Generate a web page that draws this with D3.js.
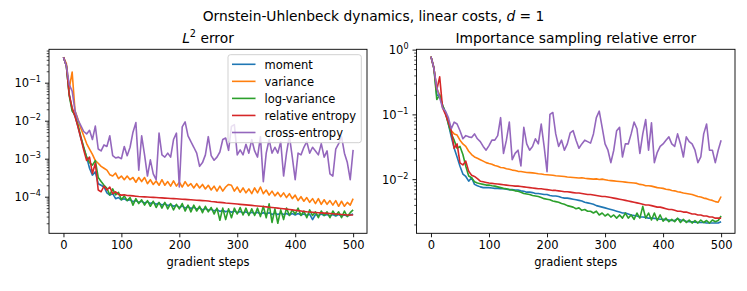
<!DOCTYPE html>
<html>
<head>
<meta charset="utf-8">
<script src="https://cdn.jsdelivr.net/npm/d3@7"></script>
<style>
  body { margin: 0; background: #fff; }
  text { font-family: "DejaVu Sans", sans-serif; }
</style>
</head>
<body>
<div id="wrapper"></div>
<script>
// steps 0..500, every 5 gradient steps
const steps = d3.range(0, 501, 5)
const seriesNames = ['moment', 'variance', 'log-variance', 'relative entropy', 'cross-entropy']
const seriesColors = ['#1f77b4', '#ff7f0e', '#2ca02c', '#d62728', '#9467bd']
const xTicks = [0, 100, 200, 300, 400, 500]
const leftYTickExp = [-4, -3, -2, -1]
const rightYTickExp = [-2, -1, 0]

// L2 error
const l2Moment = [0.47, 0.28, 0.050, 0.020, 0.013, 0.0071, 0.0035, 0.0019, 0.0011, 5.6e-4,
  3.7e-4, 4.5e-4, 2.2e-4, 2.0e-4, 1.8e-4, 1.26e-4, 1.1e-4, 1.2e-4, 8.9e-5, 9.5e-5,
  8.3e-5, 8.8e-5, 7.9e-5, 8.3e-5, 7.4e-5, 7.9e-5, 7.1e-5, 7.6e-5, 6.8e-5, 7.4e-5,
  6.6e-5, 7.1e-5, 6.3e-5, 6.8e-5, 6.0e-5, 6.6e-5, 5.8e-5, 6.3e-5, 5.6e-5, 6.0e-5,
  5.2e-5, 5.7e-5, 5.0e-5, 5.5e-5, 4.9e-5, 5.3e-5, 4.7e-5, 5.1e-5, 4.5e-5, 4.9e-5,
  4.4e-5, 4.7e-5, 4.2e-5, 4.6e-5, 4.1e-5, 4.4e-5, 4.0e-5, 4.3e-5, 3.9e-5, 4.2e-5,
  3.8e-5, 4.1e-5, 3.7e-5, 4.0e-5, 3.6e-5, 3.9e-5, 3.6e-5, 3.9e-5, 3.5e-5, 3.8e-5,
  3.5e-5, 3.8e-5, 3.4e-5, 3.7e-5, 3.4e-5, 3.7e-5, 3.4e-5, 3.6e-5, 3.3e-5, 3.6e-5,
  3.3e-5, 3.6e-5, 3.3e-5, 3.5e-5, 3.2e-5, 3.5e-5, 2.5e-5, 3.4e-5, 3.2e-5, 3.5e-5,
  3.2e-5, 3.4e-5, 3.1e-5, 3.4e-5, 3.1e-5, 3.4e-5, 3.1e-5, 3.3e-5, 3.1e-5, 3.3e-5,
  3.5e-5]
const l2Variance = [0.47, 0.32, 0.071, 0.19, 0.018, 0.011, 0.0063, 0.0040, 0.0025, 0.0018,
  1.3e-3, 8.9e-4, 7.6e-4, 6.3e-4, 5.6e-4, 5.0e-4, 3.8e-4, 3.5e-4, 4.2e-4, 3.0e-4,
  3.5e-4, 2.8e-4, 3.5e-4, 2.8e-4, 3.2e-4, 2.4e-4, 3.2e-4, 2.5e-4, 3.2e-4, 2.2e-4,
  2.8e-4, 2.1e-4, 2.6e-4, 2.0e-4, 2.8e-4, 2.0e-4, 2.5e-4, 1.9e-4, 2.6e-4, 1.9e-4,
  2.4e-4, 1.8e-4, 2.5e-4, 1.9e-4, 2.2e-4, 1.7e-4, 2.2e-4, 1.7e-4, 2.1e-4, 1.6e-4,
  2.0e-4, 1.5e-4, 1.9e-4, 1.4e-4, 1.9e-4, 1.4e-4, 1.8e-4, 2.1e-4, 2.0e-4, 1.4e-4,
  1.8e-4, 1.3e-4, 1.7e-4, 1.26e-4, 1.6e-4, 1.2e-4, 1.7e-4, 1.26e-4, 1.8e-4, 1.2e-4,
  1.5e-4, 1.1e-4, 1.4e-4, 1.05e-4, 1.3e-4, 1.0e-4, 1.26e-4, 9.5e-5, 1.2e-4, 8.9e-5,
  1.1e-4, 7.9e-5, 1.0e-4, 7.6e-5, 9.5e-5, 7.1e-5, 8.9e-5, 6.6e-5, 8.9e-5, 6.3e-5,
  8.3e-5, 6.3e-5, 7.9e-5, 6.0e-5, 7.9e-5, 5.6e-5, 7.6e-5, 5.6e-5, 7.1e-5, 6.0e-5,
  8.9e-5]
const l2LogVariance = [0.47, 0.28, 0.045, 0.018, 0.014, 0.0079, 0.0038, 0.0020, 0.0011, 7.9e-4,
  6.8e-4, 8.9e-4, 3.2e-4, 2.5e-4, 2.0e-4, 1.66e-4, 1.12e-4, 1.6e-4, 1.12e-4, 1.3e-4,
  8.3e-5, 1.05e-4, 7.9e-5, 9.5e-5, 6.0e-5, 8.9e-5, 6.6e-5, 8.3e-5, 6.0e-5, 7.9e-5,
  5.6e-5, 7.6e-5, 5.2e-5, 7.1e-5, 5.0e-5, 7.1e-5, 4.8e-5, 6.6e-5, 4.5e-5, 6.3e-5,
  4.8e-5, 6.6e-5, 4.2e-5, 6.0e-5, 4.0e-5, 6.0e-5, 4.2e-5, 5.6e-5, 3.8e-5, 5.6e-5,
  4.0e-5, 5.2e-5, 3.5e-5, 5.0e-5, 2.4e-5, 5.0e-5, 2.5e-5, 4.8e-5, 2.8e-5, 5.0e-5,
  3.5e-5, 5.2e-5, 3.3e-5, 5.0e-5, 3.2e-5, 4.8e-5, 3.2e-5, 5.0e-5, 3.0e-5, 5.6e-5,
  2.8e-5, 6.5e-5, 2.1e-5, 4.8e-5, 2.0e-5, 4.5e-5, 2.5e-5, 5.0e-5, 3.2e-5, 4.5e-5,
  3.5e-5, 5.0e-5, 3.2e-5, 4.2e-5, 2.8e-5, 4.5e-5, 3.2e-5, 4.0e-5, 2.8e-5, 4.2e-5,
  3.2e-5, 4.0e-5, 2.8e-5, 4.2e-5, 3.2e-5, 4.0e-5, 2.8e-5, 4.2e-5, 3.0e-5, 3.8e-5,
  4.5e-5]
const l2RelEntropy = [0.47, 0.28, 0.048, 0.022, 0.013, 0.0069, 0.0035, 0.0017, 9.0e-4, 1.1e-3,
  4.1e-4, 7.6e-4, 1.5e-4, 1.35e-4, 1.9e-4, 1.5e-4, 1.8e-4, 1.2e-4, 1.35e-4, 1.15e-4,
  1.1e-4, 1.12e-4, 1.08e-4, 1.07e-4, 1.05e-4, 1.03e-4, 1.01e-4, 1.0e-4, 9.9e-5, 9.8e-5,
  9.7e-5, 9.6e-5, 9.5e-5, 9.4e-5, 9.3e-5, 9.2e-5, 9.1e-5, 9.0e-5, 8.9e-5, 8.8e-5,
  8.7e-5, 8.6e-5, 8.5e-5, 8.4e-5, 8.3e-5, 8.2e-5, 8.1e-5, 8.0e-5, 7.9e-5, 7.8e-5,
  7.7e-5, 7.5e-5, 7.4e-5, 7.2e-5, 7.1e-5, 7.0e-5, 6.8e-5, 6.7e-5, 6.6e-5, 6.5e-5,
  6.4e-5, 6.3e-5, 6.2e-5, 6.1e-5, 6.0e-5, 5.9e-5, 5.8e-5, 5.7e-5, 5.6e-5, 5.5e-5,
  5.4e-5, 5.3e-5, 5.2e-5, 5.1e-5, 5.0e-5, 4.9e-5, 4.8e-5, 4.7e-5, 4.6e-5, 4.5e-5,
  4.4e-5, 4.3e-5, 4.2e-5, 4.1e-5, 4.0e-5, 3.95e-5, 3.9e-5, 3.85e-5, 3.8e-5, 3.75e-5,
  3.7e-5, 3.65e-5, 3.6e-5, 3.55e-5, 3.5e-5, 3.45e-5, 3.4e-5, 3.35e-5, 3.3e-5, 3.3e-5,
  3.3e-5]
const l2CrossEntropy = [0.47, 0.28, 0.089, 0.060, 0.018, 0.0105, 0.0074, 0.0052, 0.0045, 0.0056,
  0.0032, 0.0072, 0.0018, 0.0016, 0.0023, 0.0021, 0.0040, 0.0012, 0.00105, 0.0011,
  0.0010, 0.0021, 0.0012, 0.0020, 0.0050, 0.0089, 0.0005, 0.0040, 0.00126, 0.00035,
  0.00093, 0.0004, 0.00028, 0.0047, 0.00126, 0.0011, 0.0014, 0.0011, 0.0032, 0.0047,
  0.00018, 0.0069, 0.0093, 0.0040, 0.0028, 0.0020, 0.0014, 0.00063, 0.00079, 0.00126,
  0.0038, 0.0012, 0.00091, 0.0011, 0.0015, 0.0032, 0.0035, 0.00166, 0.0071, 0.0079,
  0.00126, 0.0017, 0.00126, 0.0024, 0.0014, 0.0032, 0.0016, 0.0011, 0.0038, 0.00025,
  0.0014, 0.0032, 0.0014, 0.0020, 0.0014, 0.0028, 0.00035, 0.0014, 0.0040, 0.0011,
  0.00028, 0.0014, 0.00126, 0.0020, 0.0028, 0.0014, 0.0020, 0.0016, 0.00126, 0.0025,
  0.0011, 0.0016, 0.0004, 0.00035, 0.0018, 0.0025, 0.0038, 0.0014, 0.00079, 0.00028,
  0.0017]

// importance sampling relative error
const isMoment = [0.78, 0.52, 0.20, 0.19, 0.138, 0.107, 0.071, 0.045, 0.030, 0.022,
  0.0158, 0.012, 0.011, 0.0093, 0.0105, 0.0083, 0.0079, 0.0076, 0.0074, 0.0074,
  0.0074, 0.0073, 0.0072, 0.0072, 0.0071, 0.0071, 0.0070, 0.0069, 0.0069, 0.0068,
  0.0068, 0.0066, 0.0065, 0.0063, 0.0063, 0.0062, 0.0060, 0.0060, 0.0059, 0.0058,
  0.0058, 0.0056, 0.0055, 0.0055, 0.0054, 0.0052, 0.0051, 0.0051, 0.0050, 0.0049,
  0.0048, 0.0047, 0.0046, 0.0044, 0.0043, 0.0042, 0.0041, 0.0039, 0.0038, 0.0037,
  0.0036, 0.0035, 0.0034, 0.0033, 0.0032, 0.0031, 0.0030, 0.0030, 0.0029, 0.0028,
  0.00275, 0.0027, 0.0026, 0.0026, 0.00257, 0.0025, 0.0025, 0.00248, 0.00245, 0.0024,
  0.0024, 0.00237, 0.00234, 0.0023, 0.0023, 0.00245, 0.00234, 0.0023, 0.00224, 0.0022,
  0.0022, 0.00217, 0.00214, 0.00214, 0.00214, 0.0021, 0.0021, 0.0021, 0.0021, 0.0021,
  0.0022]
const isVariance = [0.78, 0.52, 0.25, 0.20, 0.132, 0.105, 0.079, 0.056, 0.050, 0.048,
  0.040, 0.035, 0.032, 0.027, 0.024, 0.022, 0.021, 0.020, 0.019, 0.018,
  0.0174, 0.0170, 0.0162, 0.0158, 0.0151, 0.0150, 0.0145, 0.0142, 0.0138, 0.0136,
  0.0132, 0.0131, 0.0129, 0.0127, 0.0126, 0.0125, 0.0123, 0.0121, 0.0120, 0.0118,
  0.0117, 0.0116, 0.0115, 0.0113, 0.0112, 0.0111, 0.0110, 0.0108, 0.0107, 0.0106,
  0.0105, 0.0104, 0.0105, 0.0103, 0.0102, 0.0101, 0.0100, 0.0101, 0.0099, 0.0100,
  0.0098, 0.0096, 0.0095, 0.0094, 0.0093, 0.0092, 0.0091, 0.0090, 0.0089, 0.0088,
  0.0087, 0.0086, 0.0083, 0.0082, 0.0079, 0.0079, 0.0078, 0.0076, 0.0074, 0.0073,
  0.0072, 0.0070, 0.0069, 0.0067, 0.0066, 0.0064, 0.0063, 0.0061, 0.0060, 0.0059,
  0.0058, 0.0056, 0.0054, 0.0053, 0.0051, 0.0050, 0.0048, 0.0047, 0.0045, 0.0044,
  0.0054]
const isLogVariance = [0.78, 0.52, 0.17, 0.20, 0.138, 0.107, 0.071, 0.050, 0.040, 0.030,
  0.032, 0.024, 0.0158, 0.0112, 0.0105, 0.0091, 0.0087, 0.0085, 0.0083, 0.0081,
  0.0081, 0.0079, 0.0078, 0.0076, 0.0074, 0.0072, 0.0071, 0.0069, 0.0068, 0.0066,
  0.0065, 0.0063, 0.0060, 0.0059, 0.0058, 0.0056, 0.0055, 0.0054, 0.0052, 0.0050,
  0.0049, 0.0048, 0.0046, 0.0045, 0.0044, 0.0042, 0.0041, 0.0039, 0.0038, 0.0037,
  0.0035, 0.0036, 0.0033, 0.0034, 0.0032, 0.0032, 0.0030, 0.0032, 0.0028, 0.0030,
  0.0027, 0.0029, 0.0026, 0.0028, 0.0025, 0.0028, 0.0025, 0.0030, 0.0025, 0.0028,
  0.0024, 0.0030, 0.0025, 0.0038, 0.0025, 0.0030, 0.00234, 0.0030, 0.0023, 0.0028,
  0.00224, 0.0025, 0.0022, 0.0024, 0.0022, 0.0025, 0.00214, 0.0024, 0.00214, 0.00234,
  0.0021, 0.0023, 0.0021, 0.00234, 0.00214, 0.0023, 0.0021, 0.00234, 0.0022, 0.0023,
  0.0027]
const isRelEntropy = [0.78, 0.52, 0.24, 0.38, 0.126, 0.10, 0.076, 0.056, 0.030, 0.035,
  0.0178, 0.0166, 0.019, 0.0132, 0.0115, 0.011, 0.0102, 0.0093, 0.0091, 0.0089,
  0.0087, 0.0086, 0.0085, 0.0084, 0.0083, 0.0082, 0.0081, 0.0080, 0.0079, 0.0078,
  0.0078, 0.0077, 0.0076, 0.0075, 0.0074, 0.0073, 0.0072, 0.0071, 0.0071, 0.0070,
  0.0069, 0.0068, 0.0067, 0.0067, 0.0066, 0.0065, 0.0064, 0.0064, 0.0063, 0.0062,
  0.0061, 0.0061, 0.0060, 0.0059, 0.0058, 0.0058, 0.0057, 0.0056, 0.0055, 0.0054,
  0.0054, 0.0053, 0.0052, 0.0051, 0.0050, 0.0049, 0.0048, 0.0047, 0.0046, 0.0045,
  0.0044, 0.0043, 0.0042, 0.0041, 0.0040, 0.0040, 0.0039, 0.0038, 0.0037, 0.0037,
  0.0036, 0.0035, 0.0034, 0.0034, 0.0033, 0.0032, 0.0032, 0.0031, 0.0031, 0.0030,
  0.0029, 0.0029, 0.0028, 0.0028, 0.0027, 0.0027, 0.0026, 0.0026, 0.0025, 0.0025,
  0.0025]
const isCrossEntropy = [0.78, 0.52, 0.26, 0.18, 0.126, 0.112, 0.089, 0.060, 0.076, 0.071,
  0.056, 0.042, 0.047, 0.045, 0.044, 0.050, 0.042, 0.038, 0.032, 0.028,
  0.033, 0.040, 0.040, 0.047, 0.089, 0.025, 0.040, 0.076, 0.020, 0.025,
  0.028, 0.016, 0.063, 0.035, 0.028, 0.032, 0.042, 0.035, 0.071, 0.032,
  0.013, 0.10, 0.107, 0.050, 0.032, 0.040, 0.028, 0.035, 0.052, 0.056,
  0.040, 0.030, 0.035, 0.040, 0.038, 0.036, 0.050, 0.089, 0.112, 0.063,
  0.035, 0.028, 0.018, 0.028, 0.056, 0.063, 0.022, 0.035, 0.035, 0.050,
  0.076, 0.060, 0.025, 0.050, 0.083, 0.028, 0.074, 0.018, 0.026, 0.032,
  0.035, 0.040, 0.045, 0.035, 0.032, 0.050, 0.035, 0.022, 0.045, 0.038,
  0.035, 0.028, 0.018, 0.022, 0.050, 0.071, 0.028, 0.028, 0.018, 0.028,
  0.040]

const l2Series = [l2Moment, l2Variance, l2LogVariance, l2RelEntropy, l2CrossEntropy]
const isSeries = [isMoment, isVariance, isLogVariance, isRelEntropy, isCrossEntropy]

// layout
const dimensions = {
  width: 747,
  height: 291,
  top: 49.3,
  bottom: 233.3
}
const xDomain = [-24.95, 523.95]
const fontFamily = '"DejaVu Sans", sans-serif'

const svg = d3.select('#wrapper')
  .append('svg')
    .attr('width', dimensions.width)
    .attr('height', dimensions.height)

// suptitle
const sup = svg.append('text')
  .attr('x', 373.5)
  .attr('y', 20.5)
  .attr('text-anchor', 'middle')
  .attr('font-size', 13.8)
sup.append('tspan').text('Ornstein-Uhlenbeck dynamics, linear costs, ')
sup.append('tspan').attr('font-style', 'italic').text('d')
sup.append('tspan').text(' = 1')

function supText(sel, base, exp, fs, raise) {
  sel.append('tspan').text(base)
  sel.append('tspan').attr('dy', -raise).attr('font-size', fs * 0.7).text(exp)
}

function drawPanel(cfg) {
  const x = d3.scaleLinear().domain(xDomain).range([cfg.left, cfg.right])
  const y = d3.scaleLog().domain(cfg.yDomain).range([dimensions.bottom, dimensions.top])
  const g = svg.append('g')

  g.append('clipPath').attr('id', 'clip-' + cfg.id)
    .append('rect')
      .attr('x', cfg.left)
      .attr('y', dimensions.top)
      .attr('width', cfg.right - cfg.left)
      .attr('height', dimensions.bottom - dimensions.top)

  const lineGen = d3.line()
    .x((d, i) => x(steps[i]))
    .y(d => y(d))

  g.append('g')
    .attr('clip-path', `url(#clip-${cfg.id})`)
    .selectAll('path')
    .data(cfg.series)
    .join('path')
      .attr('d', d => lineGen(d))
      .attr('fill', 'none')
      .attr('stroke', (d, i) => seriesColors[i])
      .attr('stroke-width', 1.6)
      .attr('stroke-linejoin', 'round')

  // x axis
  const xAxis = g.append('g')
    .attr('transform', `translate(0,${dimensions.bottom})`)
    .call(d3.axisBottom(x).tickValues(xTicks).tickSize(4).tickPadding(4).tickFormat(d3.format('d')))
  xAxis.select('.domain').remove()
  xAxis.attr('font-family', fontFamily).attr('font-size', 11.5)
  xAxis.selectAll('line').attr('stroke-width', 0.9)
  xAxis.selectAll('text').attr('fill', '#000')

  g.append('text')
    .attr('x', (cfg.left + cfg.right) / 2)
    .attr('y', 266)
    .attr('text-anchor', 'middle')
    .attr('font-size', 11.5)
    .text('gradient steps')

  // y axis, major ticks
  const majors = cfg.yTickExp.map(e => Math.pow(10, e))
  const yAxis = g.append('g')
    .attr('transform', `translate(${cfg.left},0)`)
    .call(d3.axisLeft(y).tickValues(majors).tickSize(4).tickFormat(''))
  yAxis.select('.domain').remove()
  yAxis.selectAll('line').attr('stroke-width', 0.9)

  // minor ticks
  const [lo, hi] = cfg.yDomain
  const minors = []
  for (let k = Math.floor(Math.log10(lo)); k <= Math.ceil(Math.log10(hi)); k++) {
    for (let m = 2; m <= 9; m++) {
      const v = m * Math.pow(10, k)
      if (v >= lo && v <= hi) minors.push(v)
    }
  }
  const yMinor = g.append('g')
    .attr('transform', `translate(${cfg.left},0)`)
    .call(d3.axisLeft(y).tickValues(minors).tickSize(2.3).tickFormat(''))
  yMinor.select('.domain').remove()
  yMinor.selectAll('line').attr('stroke-width', 0.7)

  g.selectAll('.ylab')
    .data(cfg.yTickExp)
    .join('text')
      .attr('class', 'ylab')
      .attr('x', cfg.left - 8)
      .attr('y', d => y(Math.pow(10, d)) + 4.6)
      .attr('text-anchor', 'end')
      .attr('font-size', 11.5)
      .each(function(d) {
        supText(d3.select(this), '10', d < 0 ? '\u2212' + (-d) : String(d), 11.5, 5)
      })

  // spines
  g.append('rect')
    .attr('x', cfg.left)
    .attr('y', dimensions.top)
    .attr('width', cfg.right - cfg.left)
    .attr('height', dimensions.bottom - dimensions.top)
    .attr('fill', 'none')
    .attr('stroke', '#000')
    .attr('stroke-width', 0.9)

  // title
  const t = g.append('text')
    .attr('x', (cfg.left + cfg.right) / 2)
    .attr('y', 42.5)
    .attr('text-anchor', 'middle')
    .attr('font-size', 13.8)
  cfg.title(t)

  return {x, y, g}
}

const left = drawPanel({
  id: 'l2',
  left: 49,
  right: 367,
  yDomain: [Math.pow(10, -4.963), Math.pow(10, -0.121)],
  yTickExp: leftYTickExp,
  series: l2Series,
  title: t => {
    t.append('tspan').attr('font-style', 'italic').text('L')
    t.append('tspan').attr('dy', -6).attr('font-size', 9.7).text('2')
    t.append('tspan').attr('dy', 6).text(' error')
  }
})

drawPanel({
  id: 'is',
  left: 416.5,
  right: 735,
  yDomain: [Math.pow(10, -2.836), Math.pow(10, 0.005)],
  yTickExp: rightYTickExp,
  series: isSeries,
  title: t => t.text('Importance sampling relative error')
})

// legend
const legend = left.g.append('g')
legend.append('rect')
  .attr('x', 228)
  .attr('y', 54.7)
  .attr('width', 133.3)
  .attr('height', 88)
  .attr('rx', 2.5)
  .attr('fill', '#fff')
  .attr('fill-opacity', 0.8)
  .attr('stroke', '#cccccc')
  .attr('stroke-width', 0.9)

const entries = legend.selectAll('.entry')
  .data(seriesNames)
  .join('g')
    .attr('class', 'entry')
    .attr('transform', (d, i) => `translate(0,${64.3 + i * 17.05})`)
entries.append('line')
  .attr('x1', 232)
  .attr('x2', 255.5)
  .attr('stroke', (d, i) => seriesColors[i])
  .attr('stroke-width', 1.6)
entries.append('text')
  .attr('x', 264.5)
  .attr('y', 4.2)
  .attr('font-size', 11.5)
  .text(d => d)
</script>
</body>
</html>
